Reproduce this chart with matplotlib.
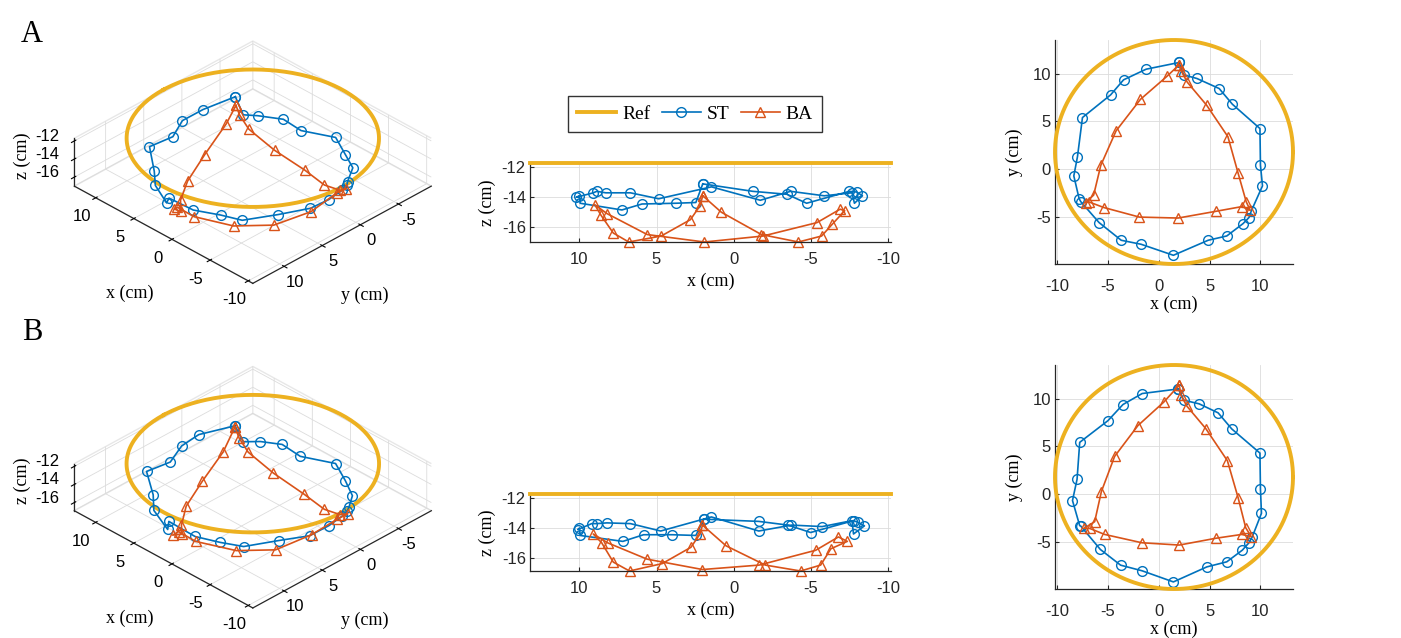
import numpy as np
import matplotlib
matplotlib.use("Agg")
import matplotlib.pyplot as plt
from matplotlib.lines import Line2D

plt.rcParams['font.family'] = ['Liberation Sans', 'DejaVu Sans']
plt.rcParams['axes.unicode_minus'] = False

BLUE = '#0072BD'
ORANGE = '#D95319'
YELLOW = '#EDB120'
SERIF = 'Liberation Serif'

# reference circle (cm)
ref_cx, ref_cy, ref_r, ref_z = 1.5, 1.8, 11.7, -11.7

# ---- row A ----
st_a_x = [2.0, 2.45, 3.75, 5.94, 7.24, 9.95, 10.0, 10.2, 9.1, 8.87, 8.29, 6.69, 4.86,
          1.44, -1.73, -3.69, -5.87, -7.67, -7.83, -8.35, -7.99, -7.5, -4.73, -3.46, -1.24]
st_a_y = [11.15, 9.86, 9.48, 8.43, 6.79, 4.25, 0.42, -1.74, -4.36, -5.05, -5.68, -6.97, -7.42,
          -8.99, -7.84, -7.42, -5.57, -3.38, -3.07, -0.7, 1.32, 5.4, 7.77, 9.34, 10.45]
st_a_z = [-13.1, -14.35, -14.4, -14.45, -14.85, -14.4, -13.9, -14.0, -13.7, -13.6, -13.7, -13.7, -14.1,
          -13.3, -14.2, -13.6, -13.9, -13.7, -14.4, -13.9, -13.65, -13.6, -14.4, -13.8, -13.6]

ba_a_x = [2.0, 2.2, 2.8, 4.7, 6.8, 7.8, 8.6, 9.0, 8.2, 5.6, 1.9, -1.9, -5.4,
          -6.9, -7.2, -6.4, -5.7, -4.2, -1.8, 0.8]
ba_a_y = [10.9, 10.3, 9.1, 6.7, 3.4, -0.4, -3.4, -4.3, -3.9, -4.4, -5.1, -5.0, -4.0,
          -3.4, -3.5, -2.7, 0.4, 4.0, 7.3, 9.7]
ba_a_z = [-13.9, -14.6, -15.5, -16.6, -17.0, -16.4, -15.2, -14.5, -15.1, -16.5, -17.0, -16.6, -15.7,
          -14.8, -14.9, -15.8, -16.6, -17.0, -16.5, -15.0]

# ---- row B ----
st_b_x = [1.93, 2.45, 3.98, 5.84, 7.18, 9.95, 10.0, 10.1, 9.2, 8.87, 8.22, 6.69, 4.73,
          1.44, -1.63, -3.75, -5.74, -7.67, -7.77, -8.48, -8.03, -7.77, -4.99, -3.52, -1.63]
st_b_y = [11.0, 9.83, 9.44, 8.5, 6.82, 4.3, 0.52, -1.99, -4.44, -5.07, -5.84, -7.06, -7.59,
          -9.16, -8.0, -7.41, -5.77, -3.32, -3.29, -0.66, 1.57, 5.42, 7.69, 9.37, 10.52]
st_b_z = [-13.4, -14.5, -14.45, -14.45, -14.9, -14.5, -14.0, -14.1, -13.7, -13.7, -13.65, -13.7, -14.2,
          -13.25, -14.2, -13.8, -13.9, -13.5, -14.4, -13.85, -13.6, -13.5, -14.3, -13.8, -13.55]

ba_b_x = [2.02, 2.18, 2.77, 4.63, 6.75, 7.8, 8.55, 9.1, 8.16, 5.61, 2.02, -1.66, -5.32,
          -6.79, -7.37, -6.3, -5.64, -4.34, -2.05, 0.49]
ba_b_y = [11.4, 10.35, 9.2, 6.85, 3.5, -0.35, -3.5, -4.44, -4.2, -4.6, -5.31, -5.07, -4.2,
          -3.57, -3.57, -2.87, 0.28, 3.95, 7.17, 9.62]
ba_b_z = [-13.8, -14.4, -15.3, -16.4, -16.9, -16.3, -15.0, -14.4, -15.0, -16.1, -16.8, -16.5, -15.5,
          -14.6, -14.9, -15.4, -16.5, -16.9, -16.5, -15.2]

# the 3-D view is drawn in the device frame, rotated with respect to the plane views
frame_angle = 238.0
frame_cx, frame_cy = 1.1, 2.4

W, H = 1401, 638
fig = plt.figure(figsize=(W / 100, H / 100), dpi=100)


def closed(v):
    v = np.asarray(v, dtype=float)
    return np.r_[v, v[:1]]


def to_frame(x, y):
    t = np.deg2rad(frame_angle)
    dx, dy = np.asarray(x) - ref_cx, np.asarray(y) - ref_cy
    return (frame_cx + np.cos(t) * dx - np.sin(t) * dy,
            frame_cy + np.sin(t) * dx + np.cos(t) * dy)


def px_rect(left, top, right, bottom):
    return [left / W, 1 - bottom / H, (right - left) / W, (bottom - top) / H]


def px_text(x, y, s, **kw):
    fig.text(x / W, 1 - y / H, s, ha='center', va='center', **kw)


mk = dict(mfc='none', ms=7, mew=1.0, lw=1.2)


def style2d(ax, xpad):
    ax.grid(True, color='#dcdcdc', lw=0.6)
    ax.set_axisbelow(True)
    for s in ['top', 'right']:
        ax.spines[s].set_visible(False)
    for s in ['left', 'bottom']:
        ax.spines[s].set_linewidth(0.9)
        ax.spines[s].set_color('#262626')
    ax.tick_params(direction='in', length=3, labelsize=12, colors='#262626')
    ax.tick_params(axis='x', pad=xpad)
    ax.tick_params(axis='y', pad=3)


def panel3d(rect, dy, sx, sy, sz, bx, by, bz):
    ax = fig.add_axes(rect, projection='3d', proj_type='ortho')
    ax.view_init(elev=33, azim=135)
    zmin = min(min(sz), min(bz))
    t = np.linspace(0, 2 * np.pi, 200)
    ax.plot(frame_cx + ref_r * np.cos(t), frame_cy + ref_r * np.sin(t),
            np.full_like(t, ref_z), color=YELLOW, lw=2.8)
    fx, fy = to_frame(closed(sx), closed(sy))
    ax.plot(fx, fy, closed(sz), '-o', color=BLUE, **mk)
    fx, fy = to_frame(closed(bx), closed(by))
    ax.plot(fx, fy, closed(bz), '-^', color=ORANGE, **mk)
    ax.set_xlim(frame_cx - ref_r, frame_cx + ref_r)
    ax.set_ylim(frame_cy - ref_r, frame_cy + ref_r)
    ax.set_zlim(zmin, ref_z)
    ax.set_box_aspect((2 * ref_r, 2 * ref_r, ref_z - zmin), zoom=1.1)
    ax.set_xticks([-10, -5, 0, 5, 10])
    ax.set_yticks([-5, 0, 5, 10])
    ax.set_zticks([-16, -14, -12])
    ax.zaxis.set_ticks_position('upper')
    for a in (ax.xaxis, ax.yaxis, ax.zaxis):
        a.pane.set_facecolor((1, 1, 1, 0))
        a.pane.set_edgecolor('#d0d0d0')
        a._axinfo['grid'].update(color='#dcdcdc', linewidth=0.6)
        a.line.set_color('#262626')
        a.line.set_linewidth(0.9)
    ax.tick_params(axis='x', labelsize=12, pad=1.5)
    ax.tick_params(axis='y', labelsize=12, pad=-1)
    ax.tick_params(axis='z', labelsize=12, pad=1)
    for lab in ax.get_zticklabels():
        lab.set_va('baseline')
    px_text(130, 293 + dy, 'x (cm)', family=SERIF, fontsize=13)
    px_text(365, 295 + dy, 'y (cm)', family=SERIF, fontsize=13)
    px_text(22, 156 + dy, 'z (cm)', family=SERIF, fontsize=13, rotation=90)
    return ax


def panel_xz(rect, sx, sz, bx, bz):
    ax = fig.add_axes(rect)
    ax.plot([ref_cx - ref_r, ref_cx + ref_r], [ref_z, ref_z], color=YELLOW, lw=2.8,
            clip_on=False, zorder=3)
    ax.plot(closed(sx), closed(sz), '-o', color=BLUE, clip_on=False, **mk)
    ax.plot(closed(bx), closed(bz), '-^', color=ORANGE, clip_on=False, **mk)
    ax.set_xlim(ref_cx + ref_r, ref_cx - ref_r)
    ax.set_ylim(min(min(sz), min(bz)), ref_z)
    ax.set_xticks([10, 5, 0, -5, -10])
    ax.set_yticks([-16, -14, -12])
    style2d(ax, 7)
    ax.set_xlabel('x (cm)', family=SERIF, fontsize=13, labelpad=4)
    ax.set_ylabel('z (cm)', family=SERIF, fontsize=13, labelpad=4)
    return ax


def panel_xy(rect, sx, sy, bx, by):
    ax = fig.add_axes(rect)
    t = np.linspace(0, 2 * np.pi, 300)
    ax.plot(ref_cx + ref_r * np.cos(t), ref_cy + ref_r * np.sin(t), color=YELLOW, lw=2.8,
            clip_on=False, zorder=3)
    ax.plot(closed(sx), closed(sy), '-o', color=BLUE, **mk)
    ax.plot(closed(bx), closed(by), '-^', color=ORANGE, **mk)
    ax.set_xlim(ref_cx - ref_r, ref_cx + ref_r)
    ax.set_ylim(ref_cy - ref_r, ref_cy + ref_r)
    ax.set_xticks([-10, -5, 0, 5, 10])
    ax.set_yticks([-5, 0, 5, 10])
    style2d(ax, 11)
    ax.set_xlabel('x (cm)', family=SERIF, fontsize=13, labelpad=1)
    ax.set_ylabel('y (cm)', family=SERIF, fontsize=13, labelpad=7)
    return ax


# row A
panel3d(px_rect(0, 7, 497, 326), 0, st_a_x, st_a_y, st_a_z, ba_a_x, ba_a_y, ba_a_z)
panel_xz(px_rect(530, 163, 891, 242), st_a_x, st_a_z, ba_a_x, ba_a_z)
panel_xy(px_rect(1055, 40, 1293, 264), st_a_x, st_a_y, ba_a_x, ba_a_y)

# row B
panel3d(px_rect(0, 332, 497, 651), 325, st_b_x, st_b_y, st_b_z, ba_b_x, ba_b_y, ba_b_z)
panel_xz(px_rect(530, 494, 891, 571), st_b_x, st_b_z, ba_b_x, ba_b_z)
panel_xy(px_rect(1055, 365, 1293, 589), st_b_x, st_b_y, ba_b_x, ba_b_y)

px_text(32, 35, 'A', family=SERIF, fontsize=22)
px_text(32, 333, 'B', family=SERIF, fontsize=22)

handles = [Line2D([], [], color=YELLOW, lw=2.8),
           Line2D([], [], color=BLUE, marker='o', **mk),
           Line2D([], [], color=ORANGE, marker='^', **mk)]
leg = fig.legend(handles, ['Ref', 'ST', 'BA'], loc='center', bbox_to_anchor=(695 / W, 1 - 114 / H),
                 ncol=3, frameon=True, fancybox=False, edgecolor='k', handlelength=2.0,
                 columnspacing=0.6, handletextpad=0.3, borderpad=0.45,
                 prop={'family': SERIF, 'size': 14})
leg.get_frame().set_linewidth(1.0)

fig.savefig('out.png', dpi=100)
